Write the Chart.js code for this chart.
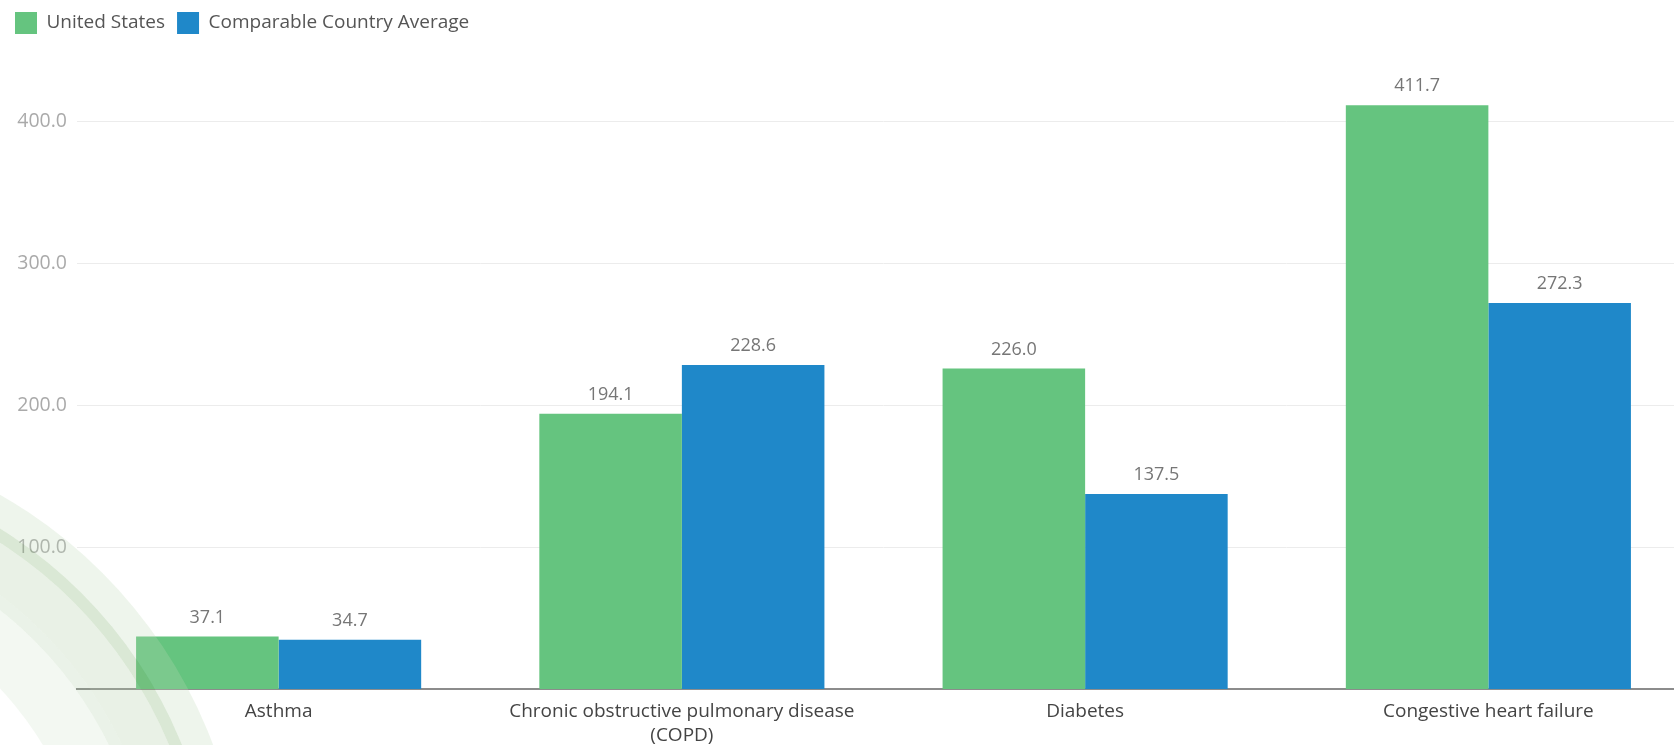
<!DOCTYPE html>
<html>
<head>
<meta charset="utf-8">
<script src="https://cdn.jsdelivr.net/npm/chart.js@4.4.1/dist/chart.umd.min.js"></script>
<style>
  html, body { margin: 0; padding: 0; background: #ffffff; overflow: hidden; }
  #wrap { width: 1690px; height: 745px; }
</style>
</head>
<body>
<div id="wrap"><canvas id="c" width="1690" height="745"></canvas></div>
<script>
const categories = ['Asthma', ['Chronic obstructive pulmonary disease', '(COPD)'], 'Diabetes', 'Congestive heart failure'];
const seriesNames = ['United States', 'Comparable Country Average'];
const usValues = [37.1, 194.1, 226.0, 411.7];
const comparableValues = [34.7, 228.6, 137.5, 272.3];
const yTickValues = [100, 200, 300, 400];

const FONT = "'Open Sans', 'DejaVu Sans', sans-serif";

const legendHeight = {
  id: 'legendHeight',
  beforeInit(chart) {
    const orig = chart.legend.fit;
    chart.legend.fit = function () {
      orig.call(this);
      this.height = 51;
    };
  }
};

const valueLabels = {
  id: 'valueLabels',
  afterDatasetsDraw(chart) {
    const ctx = chart.ctx;
    ctx.save();
    ctx.font = '18px ' + FONT;
    ctx.fillStyle = '#767676';
    ctx.textAlign = 'center';
    ctx.textBaseline = 'middle';
    chart.data.datasets.forEach((ds, i) => {
      const meta = chart.getDatasetMeta(i);
      meta.data.forEach((el, j) => {
        ctx.fillText(ds.data[j].toFixed(1), el.x, el.y - 19);
      });
    });
    ctx.restore();
  }
};

const watermark = {
  id: 'watermark',
  afterDraw(chart) {
    const ctx = chart.ctx;
    const cx = -240, cy = 915;
    ctx.save();
    ctx.beginPath();
    ctx.rect(0, 0, chart.width, chart.height);
    ctx.clip();
    const rings = [
      [484, 455, 'rgba(190,215,180,0.26)'],
      [455, 443, 'rgba(140,185,125,0.32)'],
      [443, 400, 'rgba(175,205,165,0.28)'],
      [400, 388, 'rgba(150,190,140,0.20)'],
      [388, 330, 'rgba(200,222,195,0.22)']
    ];
    rings.forEach(([ro, ri, col]) => {
      ctx.beginPath();
      ctx.arc(cx, cy, ro, 0, Math.PI * 2);
      ctx.arc(cx, cy, ri, 0, Math.PI * 2, true);
      ctx.fillStyle = col;
      ctx.fill('evenodd');
    });
    ctx.restore();
  }
};

new Chart(document.getElementById('c'), {
  type: 'bar',
  data: {
    labels: categories,
    datasets: [
      { label: seriesNames[0], data: usValues, backgroundColor: '#65c47f', borderWidth: 0 },
      { label: seriesNames[1], data: comparableValues, backgroundColor: '#1f88c9', borderWidth: 0 }
    ]
  },
  options: {
    responsive: false,
    animation: false,
    layout: { padding: { left: 3, right: 0, top: 0, bottom: 0 } },
    datasets: { bar: { categoryPercentage: 0.707, barPercentage: 1.0 } },
    plugins: {
      legend: {
        position: 'top',
        align: 'start',
        labels: {
          boxWidth: 22,
          boxHeight: 22,
          padding: 12,
          color: '#555555',
          font: { family: FONT, size: 19 }
        }
      },
      tooltip: { enabled: false }
    },
    scales: {
      x: {
        grid: { display: false, drawTicks: false },
        border: { display: true, color: '#8c8c8c', width: 2 },
        ticks: {
          color: '#444444',
          padding: 11,
          maxRotation: 0,
          autoSkip: false,
          font: { family: FONT, size: 19, lineHeight: 1.26 }
        },
        afterFit(s) { s.height = 56; }
      },
      y: {
        min: 0,
        max: 450,
        grid: { color: '#ececec', lineWidth: 1, drawTicks: false },
        border: { display: false },
        afterBuildTicks(s) { s.ticks = yTickValues.map(v => ({ value: v })); },
        ticks: {
          color: '#aaaaaa',
          padding: 10,
          font: { family: FONT, size: 19.5 },
          callback: v => Number(v).toFixed(1)
        },
        afterFit(s) { s.width = 74; }
      }
    }
  },
  plugins: [legendHeight, valueLabels, watermark]
});
</script>
</body>
</html>
